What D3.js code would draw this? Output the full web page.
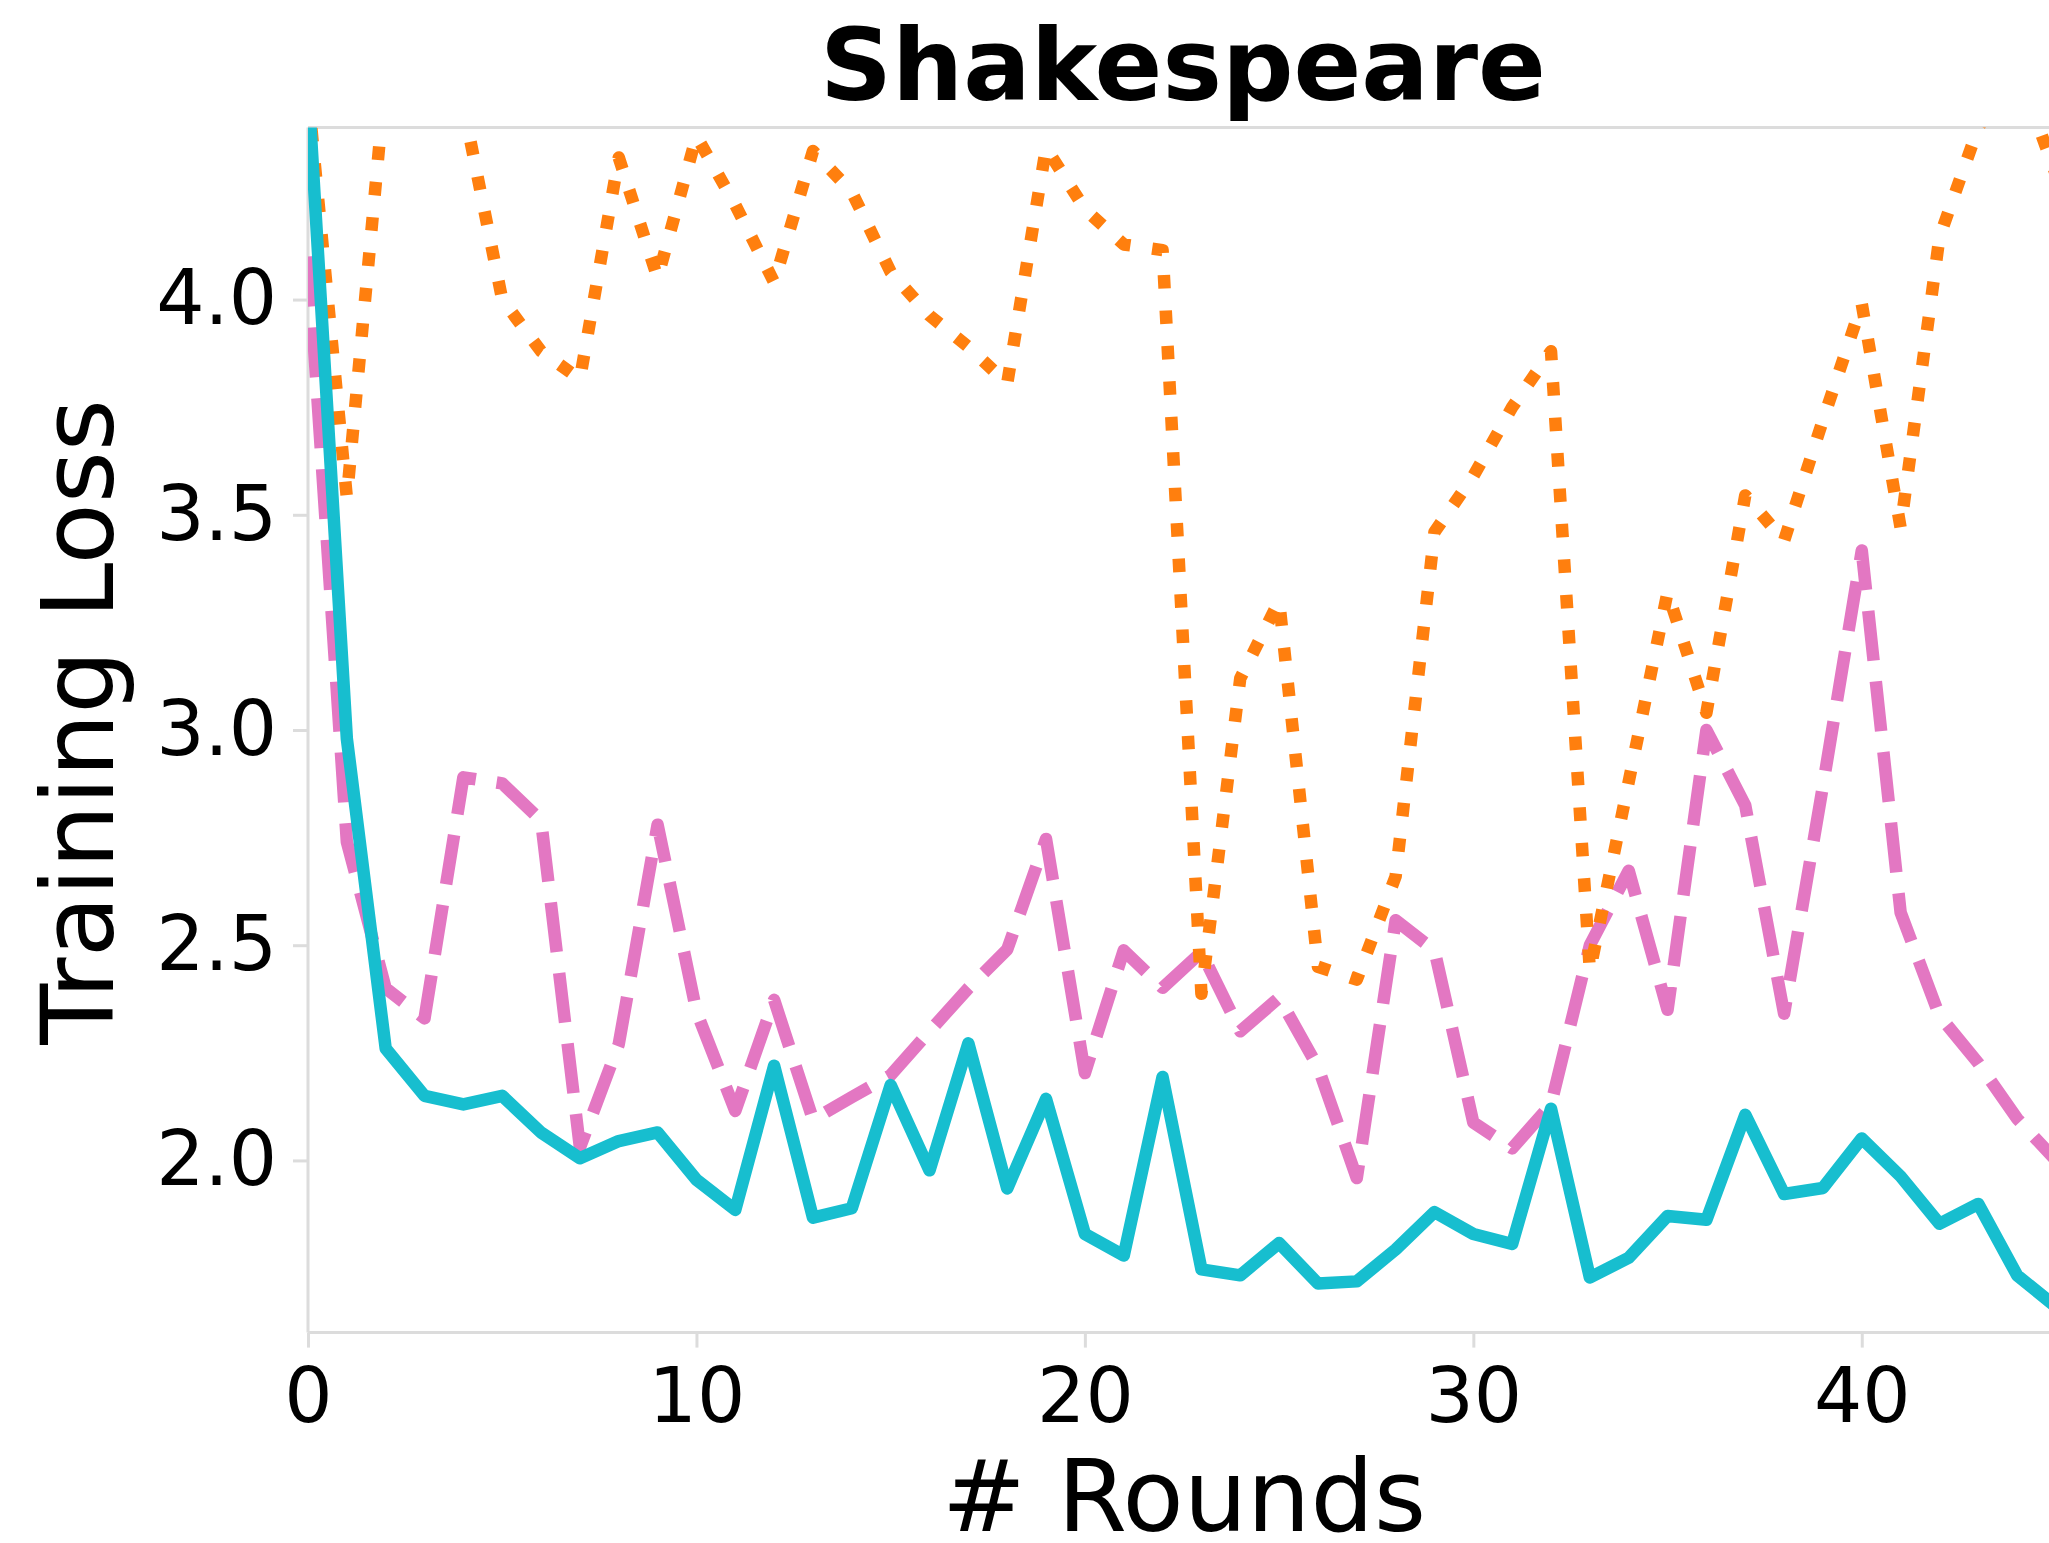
<!DOCTYPE html>
<html>
<head>
<meta charset="utf-8">
<script src="https://cdn.jsdelivr.net/npm/d3@7"></script>
<style>
  html, body { margin: 0; padding: 0; background: #ffffff; }
  svg { display: block; }
  text { font-family: "DejaVu Sans", sans-serif; fill: #000; }
</style>
</head>
<body>
<svg id="chart" width="2049" height="1543"></svg>
<script>
// ---- data ----
const rounds = d3.range(0, 46);
const cyanLoss = [4.5, 2.98, 2.26, 2.15, 2.13, 2.15, 2.065, 2.005, 2.045, 2.065,
  1.955, 1.885, 2.22, 1.867, 1.889, 2.175, 1.977, 2.272, 1.935, 2.143,
  1.829, 1.779, 2.194, 1.747, 1.733, 1.808, 1.714, 1.719, 1.793, 1.88,
  1.829, 1.806, 2.12, 1.728, 1.774, 1.871, 1.862, 2.106, 1.922, 1.936,
  2.051, 1.963, 1.853, 1.899, 1.733, 1.66];
const pinkLoss = [4.1, 2.74, 2.40, 2.33, 2.89, 2.876, 2.79, 2.03, 2.27, 2.78,
  2.346, 2.115, 2.373, 2.095, 2.147, 2.198, 2.30, 2.40, 2.49, 2.747,
  2.203, 2.488, 2.401, 2.484, 2.30, 2.378, 2.217, 1.959, 2.558, 2.488,
  2.088, 2.028, 2.13, 2.50, 2.673, 2.35, 3.00, 2.825, 2.341, 2.87,
  3.417, 2.576, 2.336, 2.226, 2.097, 2.0];
const orangeLoss = [4.48, 3.54, 4.52, 4.6, 4.45, 4.0, 3.88, 3.815, 4.33, 4.05,
  4.38, 4.22, 4.04, 4.345, 4.25, 4.064, 3.963, 3.89, 3.805, 4.353,
  4.21, 4.128, 4.115, 2.387, 3.12, 3.30, 2.45, 2.42, 2.66, 3.46,
  3.59, 3.75, 3.88, 2.44, 2.88, 3.32, 3.04, 3.545, 3.44, 3.72,
  3.99, 3.47, 4.145, 4.40, 4.54, 4.29];
const xTicks = [0, 10, 20, 30, 40];
const yTicks = [2.0, 2.5, 3.0, 3.5, 4.0];
const titleText = "Shakespeare";
const xLabel = "# Rounds";
const yLabel = "Training Loss";

// ---- layout ----
const W = 2049, H = 1543;
const pL = 308, pR = 2056, pT = 127.4, pB = 1332.6;
const spineColor = "#dcdcdc";

const svg = d3.select("#chart");
svg.append("rect").attr("width", W).attr("height", H).attr("fill", "#fff");

const x = d3.scaleLinear().domain([0, 45]).range([pL, pR]);
const y = d3.scaleLinear().domain([1.6, 4.4]).range([pB, pT]);

svg.append("defs").append("clipPath").attr("id", "plotclip")
  .append("rect").attr("x", pL).attr("y", pT)
  .attr("width", pR - pL).attr("height", pB - pT);

// axes
const yAxis = svg.append("g").attr("transform", `translate(${pL},0)`)
  .call(d3.axisLeft(y).tickValues(yTicks).tickFormat(d3.format(".1f")).tickSize(15).tickPadding(16));
const xAxis = svg.append("g").attr("transform", `translate(0,${pB})`)
  .call(d3.axisBottom(x).tickValues(xTicks).tickFormat(d3.format("d")).tickSize(15).tickPadding(20));

[yAxis, xAxis].forEach(g => {
  g.select(".domain").remove();
  g.selectAll(".tick line").attr("stroke", spineColor).attr("stroke-width", 3);
  g.selectAll(".tick text").attr("font-size", 76).attr("font-family", "DejaVu Sans").attr("fill", "#000");
});

// spines
svg.append("line").attr("x1", pL).attr("x2", pL).attr("y1", pT).attr("y2", pB)
  .attr("stroke", spineColor).attr("stroke-width", 3);
svg.append("line").attr("x1", pL).attr("x2", pR).attr("y1", pB).attr("y2", pB)
  .attr("stroke", spineColor).attr("stroke-width", 3);
svg.append("line").attr("x1", pL).attr("x2", pR).attr("y1", pT).attr("y2", pT)
  .attr("stroke", spineColor).attr("stroke-width", 3);
svg.append("line").attr("x1", pR).attr("x2", pR).attr("y1", pT).attr("y2", pB)
  .attr("stroke", spineColor).attr("stroke-width", 3);

// lines
const line = d3.line().x((d, i) => x(rounds[i])).y(d => y(d));
const plot = svg.append("g").attr("clip-path", "url(#plotclip)");

const series = [
  { values: pinkLoss, color: "#e377c2", dash: "50,21" },
  { values: orangeLoss, color: "#ff7f0e", dash: "13.5,22" },
  { values: cyanLoss, color: "#17becf", dash: null }
];
series.forEach(s => {
  const p = plot.append("path").datum(s.values)
    .attr("d", line)
    .attr("fill", "none")
    .attr("stroke", s.color)
    .attr("stroke-width", 12.5)
    .attr("stroke-linejoin", "round")
    .attr("stroke-linecap", s.dash ? "butt" : "round");
  if (s.dash) p.attr("stroke-dasharray", s.dash);
});

// title and labels
svg.append("text").attr("x", 1183).attr("y", 100).attr("text-anchor", "middle")
  .attr("font-size", 100).attr("font-weight", "bold").text(titleText);
svg.append("text").attr("x", 1184).attr("y", 1531).attr("text-anchor", "middle")
  .attr("font-size", 100).text(xLabel);
svg.append("text").attr("transform", "translate(113,722) rotate(-90)")
  .attr("text-anchor", "middle").attr("font-size", 100).text(yLabel);
</script>
</body>
</html>
